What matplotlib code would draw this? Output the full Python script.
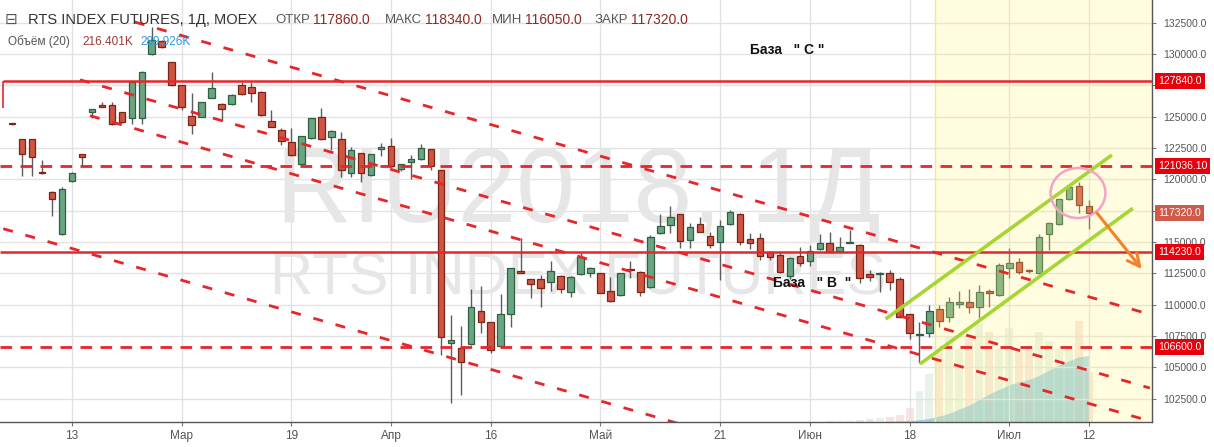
import matplotlib
matplotlib.use("Agg")
import matplotlib.pyplot as plt
from matplotlib.patches import Ellipse

plt.rcParams['lines.scale_dashes'] = False
plt.rcParams['font.family'] = ['Liberation Sans', 'DejaVu Sans']

# ---------------- data ----------------
opens = [124450, 123190, 123190, 120560, 119010, 115610, 119840, 121990, 125390, 125860,
         125900, 125340, 124860, 124860, 129990, 131050, 129330, 127500, 125050, 124990,
         126510, 125980, 125980, 127520, 127340, 126990, 124650, 123930, 122950, 121190,
         123270, 124940, 123350, 123190, 120480, 122070, 120320, 122390, 122680, 120800,
         121360, 121590, 122390, 120720, 106920, 106520, 106840, 109500, 108600, 106730,
         109230, 112710, 112020, 112020, 111790, 112310, 110990, 112420, 112500, 112500,
         111130, 110770, 112790, 112630, 111390, 115690, 116350, 117210, 115130, 116410,
         115500, 114980, 116430, 117270, 115210, 115290, 114200, 113950, 112290, 113920,
         113520, 114420, 114900, 114270, 114920, 114740, 112420, 112420, 112500, 112020,
         109230, 107560, 107720, 109630, 108990, 110090, 110240, 109790, 111070, 110770,
         112900, 113380, 112740, 112500, 115610, 116410, 118430, 119470, 117860]
highs = [124520, 123250, 123250, 121540, 119050, 119410, 120580, 122050, 125620, 126190,
         126190, 125400, 127800, 128600, 132170, 131100, 129380, 127530, 126860, 126200,
         128530, 126050, 126780, 127740, 127740, 127040, 125530, 124070, 124070, 123480,
         124920, 125660, 123900, 123750, 122600, 122120, 122050, 122870, 123270, 121250,
         121940, 122810, 122440, 120760, 109180, 108300, 111230, 111490, 108640, 110850,
         112950, 115280, 112070, 112370, 113480, 112360, 112280, 114160, 113000, 112550,
         112180, 112550, 113520, 112680, 115560, 117250, 117870, 117250, 116490, 116970,
         115820, 116750, 117550, 117320, 115730, 115690, 114250, 114120, 113810, 114620,
         114740, 115620, 115780, 115370, 115990, 114840, 112770, 112570, 112770, 112230,
         109280, 108600, 109970, 109970, 110640, 111090, 111230, 111570, 111250, 113320,
         114500, 113700, 112820, 115640, 116590, 118450, 119410, 119810, 118340]
lows = [124300, 120260, 120260, 120450, 117100, 115550, 119800, 121060, 124860, 125780,
        124350, 124500, 124410, 124410, 129950, 130480, 127450, 125530, 123590, 124950,
        126450, 124650, 125930, 126720, 126190, 125050, 124150, 122710, 121850, 121150,
        123220, 123150, 122340, 120160, 120210, 119810, 120270, 121860, 121000, 120700,
        120000, 121550, 120740, 105990, 102140, 102800, 106800, 107720, 106120, 106680,
        108240, 112500, 110510, 109840, 111120, 110910, 110590, 112380, 112170, 110900,
        110240, 110720, 112090, 110670, 111340, 115650, 115740, 114500, 114500, 115770,
        114500, 111970, 116390, 114760, 114480, 113600, 113540, 112530, 112050, 113060,
        113060, 114370, 114180, 114220, 114880, 111710, 111890, 111040, 111170, 108950,
        107240, 105330, 107400, 108240, 108640, 109710, 109310, 108910, 109790, 110720,
        112150, 112420, 112500, 112450, 114360, 116360, 118380, 117290, 116050]
closes = [124380, 121990, 121800, 120500, 118450, 119200, 120480, 121800, 125580, 125800,
          124390, 124550, 127740, 128530, 131110, 130530, 127500, 125790, 124350, 126140,
          127260, 125630, 126720, 126780, 126900, 125100, 124190, 123030, 121910, 123430,
          124860, 123190, 123850, 120740, 122340, 120480, 121990, 122600, 121060, 121190,
          121590, 122470, 121080, 107450, 107180, 105450, 109790, 108640, 106390, 109230,
          112900, 112550, 111630, 111310, 112710, 111250, 112230, 113780, 112950, 110960,
          110290, 112500, 112740, 111040, 115370, 116310, 117030, 115080, 116170, 115820,
          114740, 116240, 117370, 115020, 114900, 113920, 113840, 112580, 113760, 113300,
          114310, 114900, 114230, 114640, 114980, 112150, 112180, 112470, 111790, 108990,
          107770, 107610, 109470, 108720, 110190, 110130, 109790, 110990, 110910, 113160,
          113300, 112630, 112690, 115370, 116540, 118400, 119360, 117930, 117320]

vol_start = 80
volumes_k = [2, 2, 4, 4, 6, 9, 11, 17, 22, 30, 62, 136, 209, 318, 371, 318, 362, 426,
             390, 316, 408, 306, 318, 390, 354, 316, 316, 439, 216.401]
ma_start = 84
vol_ma_k = [0.5, 1, 1.5, 2, 3, 4, 6, 10, 16, 26, 38, 57, 74, 99, 122, 142, 162, 175,
            186, 203, 226, 248, 267, 284, 289.926]

tick_idx = [6, 17, 28, 38, 48, 59, 71, 80, 90, 100, 108]
tick_labels = ["13", "Мар", "19", "Апр", "16", "Май", "21", "Июн", "18", "Июл", "12"]
price_ticks = list(range(102500, 135000, 2500))
hidden_price_labels = [117500, 127500]

level_solid = [127840.0, 114230.0]
level_dashed = [121036.10, 106600.0]

# descending dashed channel lines: (bar index, price) end points
down_x = [(12.3, 114.1), (6.8, 114.1), (7.8, 114.1), (-0.9, 67.0)]
down_y = [(132540, 109230), (127934, 103355), (125071, 100723), (116059, 100485)]
# ascending green channel
up_x = [(87.6, 110.3), (91.05, 112.4)]
up_y = [(108858, 121937), (105269, 117686)]
circle_c = (106.9, 118906)
arrow_from = (108.8, 117311)
arrow_to = (113.3, 112846)
shade_from = 92.55
base_c = (74.0, 130310)
base_b = (76.3, 111729)

# ---------------- figure ----------------
W, H = 1214, 447
fig = plt.figure(figsize=(W / 100, H / 100), dpi=100)
fig.patch.set_facecolor('white')
rect = [0, (H - 422) / H, 1152 / W, 422 / H]
XMIN, XMAX = -1.224, 114.32
YMIN, YMAX = 100645, 134298

axv = fig.add_axes(rect)
axv.set_xlim(XMIN, XMAX)
axv.set_ylim(0, 1836)
axv.axis('off')

ax = fig.add_axes(rect)
ax.set_xlim(XMIN, XMAX)
ax.set_ylim(YMIN, YMAX)
ax.patch.set_visible(False)

RED_F, RED_E = '#cf5441', '#7a2418'
GRN_F, GRN_E = '#6aa582', '#2f5f40'
WICK = '#5c5c5c'
LINE_RED = '#e5262b'

n = len(opens)
idx = list(range(n))
up = [closes[i] >= opens[i] for i in idx]

# volume
vidx = list(range(vol_start, vol_start + len(volumes_k)))
vcol = [GRN_F if up[i] else RED_F for i in vidx]
axv.bar(vidx, volumes_k, width=0.8, color=vcol, alpha=0.15, linewidth=0)
midx = list(range(ma_start, ma_start + len(vol_ma_k)))
axv.fill_between(midx, 0, vol_ma_k, color='#5ab4dc', alpha=0.5, linewidth=0)

# grid
ax.set_xticks(tick_idx)
ax.set_xticklabels(tick_labels)
ax.set_yticks(price_ticks)
ax.set_yticklabels(["" if p in hidden_price_labels else f"{p:.1f}" for p in price_ticks])
ax.grid(True, color='#e2e2e2', linewidth=1.0, zorder=0)
ax.set_axisbelow(True)

# watermark
ax.text(0.502, 0.54, "RIU2018, 1Д", transform=ax.transAxes, ha='center', va='center',
        fontsize=76, color='#e6e6e6', zorder=0.8)
ax.text(0.502, 0.338, "RTS INDEX FUTURES", transform=ax.transAxes, ha='center', va='center',
        fontsize=43, color='#e6e6e6', zorder=0.8)

# candles
bottoms = [min(o, c) for o, c in zip(opens, closes)]
heights = [max(abs(c - o), 90) for o, c in zip(opens, closes)]
ax.vlines(idx, lows, highs, colors=WICK, linewidth=1.0, zorder=2)
ax.bar(idx, heights, bottom=bottoms, width=0.66,
       color=[GRN_F if u else RED_F for u in up],
       edgecolor=[GRN_E if u else RED_E for u in up], linewidth=0.9, zorder=2.2)

# yellow zone
ax.axvspan(shade_from, XMAX, color=(1.0, 0.96, 0.5), alpha=0.25, linewidth=0, zorder=2.5)
ax.axvline(shade_from, color='#f1ec80', linewidth=1.0, zorder=2.6)

# horizontal levels
ax.hlines(level_solid[0], -0.92, XMAX, color=LINE_RED, linewidth=1.8, zorder=3)
ax.vlines(-0.92, 125685, level_solid[0], color=LINE_RED, linewidth=1.2, zorder=3)
ax.hlines(level_solid[1], XMIN, XMAX, color=LINE_RED, linewidth=1.8, zorder=3)
for lv in level_dashed:
    ax.hlines(lv, XMIN, XMAX, color=LINE_RED, linewidth=2.0, linestyles=(0, (8.4, 6.0)), zorder=3)
for xs, ys in zip(down_x, down_y):
    ax.plot(xs, ys, color=LINE_RED, linewidth=2.0, dashes=(7.2, 9.4), zorder=3)

# green channel
for xs, ys in zip(up_x, up_y):
    ax.plot(xs, ys, color='#a6d633', linewidth=2.6, solid_capstyle='butt', zorder=4)

ax.add_patch(Ellipse(circle_c, width=5.5, height=3990, fill=False,
                     edgecolor='#f2a3c6', linewidth=1.8, zorder=4))
ax.annotate('', xy=arrow_to, xytext=arrow_from,
            arrowprops=dict(arrowstyle='->', color='#f5822a', lw=2.2, mutation_scale=22,
                            shrinkA=0, shrinkB=0), zorder=4)

ax.text(base_c[0], base_c[1], 'База   " С "', fontsize=10, fontweight='bold',
        color='#111111', ha='left', va='center', zorder=5)
ax.text(base_b[0], base_b[1], 'База   " В  "', fontsize=10, fontweight='bold',
        color='#111111', ha='left', va='center', zorder=5)

# axes styling
for s in ['top', 'left']:
    ax.spines[s].set_visible(False)
for s in ['right', 'bottom']:
    ax.spines[s].set_color('#555555')
    ax.spines[s].set_linewidth(1.0)
ax.yaxis.tick_right()
ax.tick_params(axis='y', direction='out', length=3, width=0.8, color='#777777',
               pad=5, labelsize=7.5, labelcolor='#555555')
ax.tick_params(axis='x', direction='out', length=3, width=0.8, color='#777777',
               pad=3, labelsize=8.5, labelcolor='#555555')
for lab in ax.get_xticklabels():
    lab.set_family(['Liberation Sans Narrow', 'Liberation Sans'])

# boxed price labels
ytr = ax.get_yaxis_transform()
box_vals = [level_solid[0], level_dashed[0], level_solid[1], level_dashed[1]]
box_txt = [f"{level_solid[0]:.1f}", f"{level_dashed[0]:.2f}", f"{level_solid[1]:.1f}",
           f"{level_dashed[1]:.1f}"]
for v, t in zip(box_vals, box_txt):
    ax.text(1.0052, v, t, transform=ytr, ha='left', va='center', fontsize=7.5,
            color='white', clip_on=False, zorder=6,
            bbox=dict(boxstyle='square,pad=0.3', fc='#e8000b', ec='none'))
ax.text(1.0052, closes[-1], f"{closes[-1]:.1f}", transform=ytr, ha='left', va='center',
        fontsize=7.5, color='white', clip_on=False, zorder=6,
        bbox=dict(boxstyle='square,pad=0.3', fc='#cf5a4a', ec='none'))

# header
def fxy(px, py):
    return px / W, 1 - py / H

x, y = fxy(5, 20)
fig.text(x, y, "⊟", color='#555555', fontsize=11, ha='left', va='center')
x, y = fxy(28, 20)
fig.text(x, y, "RTS INDEX FUTURES, 1Д, MOEX", color='#333333', fontsize=10.5,
         ha='left', va='center')
hdr = [("ОТКР", 275, opens[-1]), ("МАКС", 385, highs[-1]),
       ("МИН", 492, lows[-1]), ("ЗАКР", 595, closes[-1])]
for lab, px, val in hdr:
    x, y = fxy(px, 20)
    t = fig.text(x, y, lab, color='#555555', fontsize=9.5, ha='left', va='center')
    fig.text(0, 0, "")
    ann = fig.add_artist(plt.Annotation(f"{val:.1f}", xy=(1, 0.5), xycoords=t,
                                        xytext=(2, 0), textcoords='offset points',
                                        ha='left', va='center', color='#8b2a25', fontsize=10))
hdr2 = [("Объём (20)", 8, '#555555'), (f"{volumes_k[-1]:.3f}K", 82, '#9b3b33'),
        (f"{vol_ma_k[-1]:.3f}K", 140, '#2d9ad6')]
for t, px, c in hdr2:
    x, y = fxy(px, 42)
    fig.text(x, y, t, color=c, fontsize=8.5, ha='left', va='center')

fig.savefig("out.png", dpi=100, facecolor='white')
